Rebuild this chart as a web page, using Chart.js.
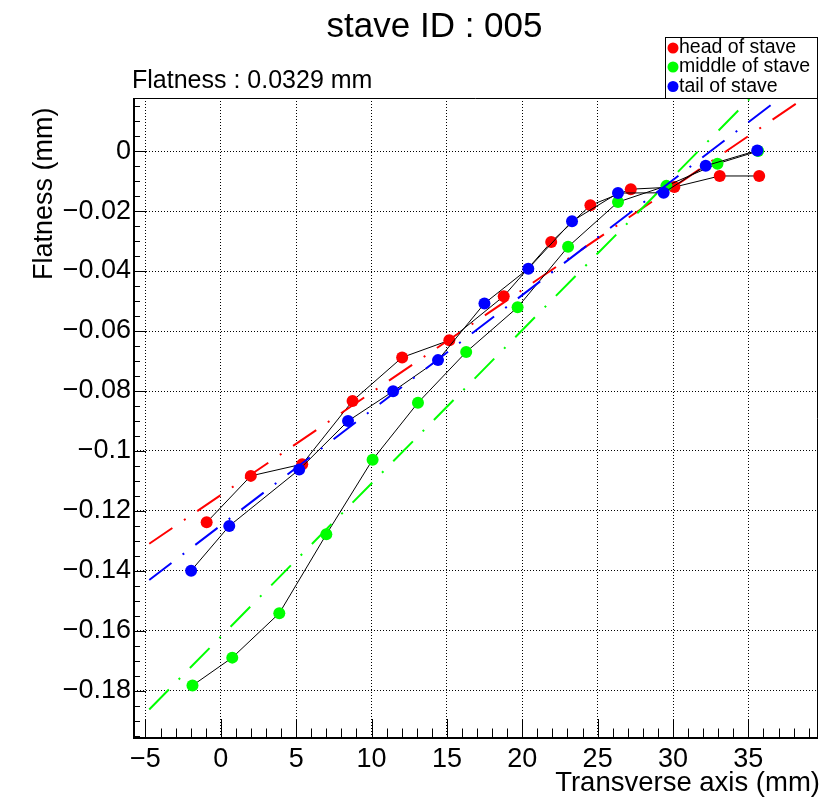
<!DOCTYPE html>
<html>
<head>
<meta charset="utf-8">
<title>stave ID : 005</title>
<script src="https://cdn.jsdelivr.net/npm/chart.js@4.4.1/dist/chart.umd.min.js"></script>
<style>
  html, body { margin: 0; padding: 0; background: #ffffff; }
  #c { display: block; }
</style>
</head>
<body>
<canvas id="c" width="824" height="799"></canvas>
<script>
// Flatness measured across the transverse axis, at three positions along the stave.
const headX   = [-0.94, 1.99, 5.40, 8.74, 12.03, 15.16, 18.77, 21.92, 24.52, 27.20, 30.09, 33.10, 35.72];
const headY   = [-0.1238, -0.1083, -0.1044, -0.0833, -0.0688, -0.0631, -0.0484, -0.0303, -0.0181, -0.0127, -0.0120, -0.0083, -0.0083];
const middleX = [-1.88, 0.76, 3.88, 7.00, 10.07, 13.08, 16.28, 19.69, 23.04, 26.35, 29.56, 32.95, 35.65];
const middleY = [-0.1782, -0.1689, -0.1541, -0.1278, -0.1029, -0.0839, -0.0670, -0.0521, -0.0319, -0.0170, -0.0116, -0.0042, 0.0000];
const tailX   = [-1.97, 0.56, 5.20, 8.44, 11.43, 14.41, 17.49, 20.40, 23.30, 26.35, 29.38, 32.17, 35.59];
const tailY   = [-0.1399, -0.1250, -0.1062, -0.0900, -0.0801, -0.0697, -0.0508, -0.0392, -0.0234, -0.0140, -0.0139, -0.0049, 0.0002];

// Straight-line fits (slope in mm/mm, intercept in mm) and the x span they are drawn over.
const fitSlope     = [0.00342, 0.00511, 0.00384];   // head, middle, tail
const fitIntercept = [-0.1147, -0.1619, -0.1248];
const fitRange     = [-4.75, 40];

const seriesNames  = ['head of stave', 'middle of stave', 'tail of stave'];
const seriesColors = ['#ff0000', '#00ff00', '#0000ff'];

const titleText    = 'stave ID : 005';
const flatnessText = 'Flatness : 0.0329 mm';
const xTitle       = 'Transverse axis (mm)';
const yTitle       = 'Flatness (mm)';

const xRange = [-5.76, 39.62];
const yRange = [-0.1957, 0.0177];
const xMajorStep = 5, xMinorStep = 1;
const yMajorStep = 0.02, yMinorStep = 0.005;

const FONT = '"Liberation Sans", Arial, Helvetica, sans-serif';

function toPoints(xs, ys) { return xs.map((x, i) => ({ x: x, y: ys[i] })); }
function fitPoints(k) {
  return fitRange.map(x => ({ x: x, y: fitIntercept[k] + fitSlope[k] * x }));
}
function fmtTick(v) {
  const r = Math.round(v * 10000) / 10000;
  return (r === 0 ? '0' : String(r)).replace('-', '\u2212');
}

const pointSets = [toPoints(headX, headY), toPoints(middleX, middleY), toPoints(tailX, tailY)];

function graphDataset(k) {
  return {
    label: seriesNames[k],
    data: pointSets[k],
    borderColor: '#000000',
    borderWidth: 1,
    pointRadius: 6,
    pointBorderWidth: 0,
    pointBackgroundColor: seriesColors[k],
    pointHoverRadius: 6,
    tension: 0,
    fill: false
  };
}
function fitDataset(k) {
  return {
    label: seriesNames[k] + ' fit',
    data: fitPoints(k),
    borderColor: seriesColors[k],
    borderWidth: 2,
    borderDash: [28, 14, 2, 14],
    borderCapStyle: 'butt',
    pointRadius: 0,
    pointHoverRadius: 0,
    tension: 0,
    fill: false
  };
}

// First dataset is painted last, so the tail graph and its fit end up on top.
const datasets = [fitDataset(2), graphDataset(2), fitDataset(1), graphDataset(1), fitDataset(0), graphDataset(0)];

// Frame, inward ticks, titles and legend box.
const decor = {
  id: 'decor',
  afterDatasetsDraw(chart) {
    const { ctx, chartArea: a, scales } = chart;
    const xs = scales.x, ys = scales.y;
    ctx.save();
    ctx.fillStyle = '#000';
    ctx.strokeStyle = '#000';

    // frame
    ctx.lineWidth = 1;
    ctx.beginPath();
    ctx.moveTo(a.left, a.top + 0.5); ctx.lineTo(a.right - 0.5, a.top + 0.5); ctx.lineTo(a.right - 0.5, a.bottom);
    ctx.stroke();
    ctx.fillRect(a.left - 1, a.top, 2, a.bottom - a.top + 1);
    ctx.fillRect(a.left - 1, a.bottom - 1, a.right - a.left + 1, 2);

    // x ticks
    ctx.beginPath();
    const xi0 = Math.ceil(xRange[0] / xMinorStep), xi1 = Math.floor(xRange[1] / xMinorStep);
    for (let i = xi0; i <= xi1; i++) {
      const v = i * xMinorStep;
      const major = Math.abs(v / xMajorStep - Math.round(v / xMajorStep)) < 1e-9;
      const px = Math.round(xs.getPixelForValue(v)) + 0.5;
      ctx.moveTo(px, a.bottom);
      ctx.lineTo(px, a.bottom - (major ? 19 : 9.5));
    }
    // y ticks
    const yi0 = Math.ceil(yRange[0] / yMinorStep - 1e-9), yi1 = Math.floor(yRange[1] / yMinorStep + 1e-9);
    for (let i = yi0; i <= yi1; i++) {
      const v = i * yMinorStep;
      const major = Math.abs(v / yMajorStep - Math.round(v / yMajorStep)) < 1e-6;
      const py = Math.round(ys.getPixelForValue(v)) + 0.5;
      ctx.moveTo(a.left, py);
      ctx.lineTo(a.left + (major ? 12 : 6), py);
    }
    ctx.stroke();
    ctx.restore();
  },
  afterDraw(chart) {
    const { ctx, chartArea: a } = chart;
    ctx.save();
    ctx.fillStyle = '#000';

    ctx.font = '35px ' + FONT;
    ctx.textAlign = 'center';
    ctx.textBaseline = 'alphabetic';
    ctx.fillText(titleText, 434.5, 37);

    ctx.font = '25px ' + FONT;
    ctx.textAlign = 'left';
    ctx.fillText(flatnessText, 132, 88);

    ctx.font = '27.5px ' + FONT;
    ctx.textAlign = 'right';
    ctx.fillText(xTitle, 820, 791);

    ctx.save();
    ctx.translate(52, 280);
    ctx.rotate(-Math.PI / 2);
    ctx.font = '27px ' + FONT;
    ctx.textAlign = 'left';
    ctx.fillText(yTitle, 0, 0);
    ctx.restore();

    // legend
    const bx = 665.5, by = 37.5, bw = a.right - 0.5 - 665.5, bh = a.top + 0.5 - 37.5;
    ctx.fillStyle = '#fff';
    ctx.fillRect(bx, by, bw, bh);
    ctx.strokeStyle = '#000';
    ctx.lineWidth = 1;
    ctx.strokeRect(bx, by, bw, bh);
    ctx.font = '19.5px ' + FONT;
    ctx.textAlign = 'left';
    const rowY = [48, 67, 86.5];
    for (let k = 0; k < seriesNames.length; k++) {
      ctx.fillStyle = seriesColors[k];
      ctx.beginPath();
      ctx.arc(673, rowY[k], 5.5, 0, Math.PI * 2);
      ctx.fill();
      ctx.fillStyle = '#000';
      ctx.fillText(seriesNames[k], 679, rowY[k] + 5);
    }
    ctx.restore();
  }
};

const tickFont = { family: FONT, size: 27 };

new Chart(document.getElementById('c'), {
  type: 'line',
  data: { datasets: datasets },
  options: {
    responsive: false,
    animation: false,
    devicePixelRatio: 1,
    parsing: true,
    layout: { padding: { top: 98, right: 3, left: 0, bottom: 0 } },
    plugins: {
      legend: { display: false },
      tooltip: { enabled: false },
      title: { display: false }
    },
    elements: { line: { clip: 0 } },
    scales: {
      x: {
        type: 'linear',
        min: xRange[0],
        max: xRange[1],
        afterFit(s) { s.height = 61; },
        ticks: {
          stepSize: xMajorStep,
          includeBounds: false,
          autoSkip: false,
          maxRotation: 0,
          padding: 5,
          color: '#000',
          font: tickFont,
          callback: fmtTick
        },
        grid: { color: '#000', lineWidth: 1, drawTicks: false, borderDash: [1, 2] },
        border: { display: false, dash: [1, 2] }
      },
      y: {
        type: 'linear',
        min: yRange[0],
        max: yRange[1],
        afterFit(s) { s.width = 134; },
        ticks: {
          stepSize: yMajorStep,
          includeBounds: false,
          autoSkip: false,
          padding: 3,
          color: '#000',
          font: tickFont,
          callback: fmtTick
        },
        grid: { color: '#000', lineWidth: 1, drawTicks: false, borderDash: [1, 2] },
        border: { display: false, dash: [1, 2] }
      }
    }
  },
  plugins: [decor]
});
</script>
</body>
</html>
